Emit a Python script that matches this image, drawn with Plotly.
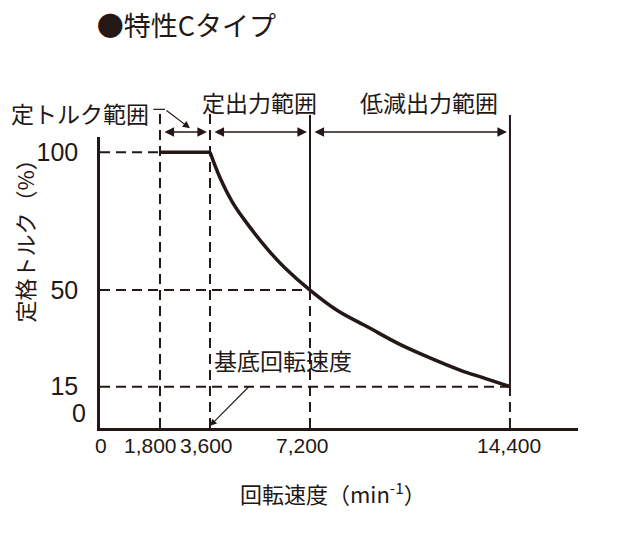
import plotly.graph_objects as go

# constant torque part
flat_speed = [1800, 3600]
flat_torque = [100, 100]

# constant output + reduced output part
curve_speed = [3600, 3950, 4400, 4800, 5700, 6300, 7200, 8200, 9300, 10400, 11500, 12600, 13500, 14400]
curve_torque = [100, 91, 82, 76, 64.5, 58, 50, 42.5, 36.5, 30.5, 25.5, 21, 18, 15]

x_ticks = [0, 1800, 3600, 7200, 14400]
x_tick_text = ["0", "1,800", "3,600", "7,200", "14,400"]
y_ticks = [15, 50, 100]
y_tick_text = ["15", "50", "100"]

INK = "#231815"
JP = "Noto Sans CJK JP"
NUM = "Liberation Sans, Arial"

X_RANGE = [-360, 16850]
Y_RANGE = [0, 105.5]
# small horizontal nudges of the x tick labels (px), as printed
x_label_nudge = [-9, -9, -3, -7, -1]


def yp(v):
    # data y -> paper y
    return (v - Y_RANGE[0]) / (Y_RANGE[1] - Y_RANGE[0])


fig = go.Figure()
fig.add_trace(go.Scatter(x=flat_speed, y=flat_torque, mode="lines",
                         line=dict(color=INK, width=3.5), cliponaxis=False,
                         hoverinfo="skip"))
fig.add_trace(go.Scatter(x=curve_speed, y=curve_torque, mode="lines",
                         line=dict(color=INK, width=3.5, shape="spline", smoothing=1),
                         cliponaxis=False, hoverinfo="skip"))

dash = dict(color=INK, width=2, dash="10px,6px")
solid = dict(color=INK, width=2)
shapes = []
# vertical guides
shapes.append(dict(type="line", xref="x", yref="paper", x0=1800, x1=1800, y0=0, y1=1.093, line=dash))
shapes.append(dict(type="line", xref="x", yref="paper", x0=3600, x1=3600, y0=0, y1=1.093, line=dash))
shapes.append(dict(type="line", xref="x", yref="paper", x0=7200, x1=7200, y0=0, y1=yp(50), line=dash))
shapes.append(dict(type="line", xref="x", yref="paper", x0=7200, x1=7200, y0=yp(50), y1=1.076, line=solid))
shapes.append(dict(type="line", xref="x", yref="paper", x0=14400, x1=14400, y0=0, y1=yp(15), line=dash))
shapes.append(dict(type="line", xref="x", yref="paper", x0=14400, x1=14400, y0=yp(15), y1=1.076, line=solid))
# horizontal guides
for xv, yv in [(1800, 100), (7200, 50), (14400, 15)]:
    shapes.append(dict(type="line", xref="x", yref="y", x0=X_RANGE[0], x1=xv, y0=yv, y1=yv, line=dash))
# leader of the constant torque label
shapes.append(dict(type="line", xref="x", yref="paper", x0=1560, x1=1980, y0=1.095, y1=1.095,
                   line=dict(color=INK, width=1.2)))

ann = []
ARROW_Y = 1.017
for a, b in [(1800, 3600), (3600, 7200), (7200, 14400)]:
    ann.append(dict(x=b, y=ARROW_Y, xref="x", yref="paper", ax=a, axref="x", ay=0, ayref="pixel",
                    text="", showarrow=True, arrowside="end+start", arrowhead=2, startarrowhead=2,
                    arrowsize=1.2, startarrowsize=1.2, arrowwidth=1.6, arrowcolor=INK,
                    standoff=3, startstandoff=3))
ann.append(dict(x=2880, y=1.03, xref="x", yref="paper", ax=1980, axref="x", ay=-19, ayref="pixel",
                text="", showarrow=True, arrowhead=2, arrowsize=1.2, arrowwidth=1.2, arrowcolor=INK))
ann.append(dict(x=3600, y=0.8, xref="x", yref="y", ax=5050, axref="x", ay=15.5, ayref="y",
                text="", showarrow=True, arrowhead=2, arrowsize=1.2, arrowwidth=1.1, arrowcolor=INK))

# x tick labels (set close together as in the print)
for v, t, s in zip(x_ticks, x_tick_text, x_label_nudge):
    ann.append(dict(x=v, y=0, xref="x", yref="paper", text=t, showarrow=False,
                    xanchor="center", yanchor="top", xshift=s, yshift=-4,
                    font=dict(family=NUM, size=21, color=INK)))

lab = dict(family=JP, size=23, color=INK)
ann.append(dict(x=-0.19, y=1.0825, xref="paper", yref="paper", text="定トルク範囲",
                showarrow=False, xanchor="left", yanchor="middle", font=lab))
ann.append(dict(x=5400, y=1.12, xref="x", yref="paper", text="定出力範囲",
                showarrow=False, xanchor="center", yanchor="middle", font=lab))
ann.append(dict(x=11500, y=1.12, xref="x", yref="paper", text="低減出力範囲",
                showarrow=False, xanchor="center", yanchor="middle", font=lab))
ann.append(dict(x=6230, y=24.7, xref="x", yref="y", text="基底回転速度",
                showarrow=False, xanchor="center", yanchor="middle", font=lab))
# y tick "0" sits a little above the x axis
ann.append(dict(x=0, y=0, xref="paper", yref="y", text="0", showarrow=False,
                xanchor="right", yanchor="middle", xshift=-12, yshift=15,
                font=dict(family=NUM, size=25, color=INK)))
# axis titles
ann.append(dict(x=0.487, y=-0.22, xref="paper", yref="paper", text="回転速度（min<sup>-1</sup>）",
                showarrow=False, xanchor="center", yanchor="middle", font=dict(family=JP, size=22, color=INK)))
ann.append(dict(x=-0.16, y=0.66, xref="paper", yref="paper", text="定格トルク（%）", textangle=-90,
                showarrow=False, xanchor="center", yanchor="middle", font=dict(family=JP, size=22, color=INK)))

# page body adds 8px on the top/left, so the figure is 8px smaller and margins shifted
fig.update_layout(
    width=612, height=538,
    margin=dict(l=92, r=42, t=129, b=118),
    paper_bgcolor="white", plot_bgcolor="white",
    showlegend=False,
    title=dict(text="●特性Cタイプ", xref="container", yref="container", x=0.145, y=0.965,
               xanchor="left", yanchor="middle",
               font=dict(family=JP, size=27, color=INK)),
    shapes=shapes, annotations=ann,
)
fig.update_xaxes(range=X_RANGE, showgrid=False, zeroline=False, showline=True, linecolor=INK, linewidth=2.5,
                 ticks="", ticklen=0, tickvals=x_ticks, showticklabels=False)
fig.update_yaxes(range=Y_RANGE, showgrid=False, zeroline=False, showline=True, linecolor=INK, linewidth=2.5,
                 ticks="", ticklen=0, tickvals=y_ticks, ticktext=y_tick_text, ticklabelstandoff=14,
                 tickfont=dict(family=NUM, size=25, color=INK))

fig.write_html("out.html")
